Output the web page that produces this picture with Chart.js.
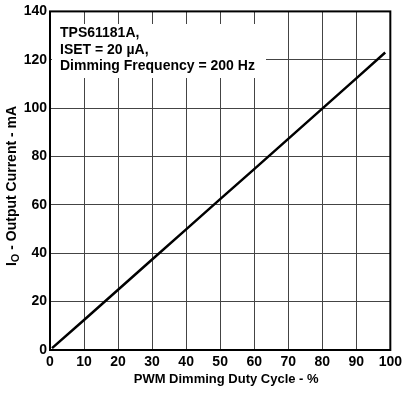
<!DOCTYPE html>
<html>
<head>
<meta charset="utf-8">
<script src="https://cdn.jsdelivr.net/npm/chart.js@4"></script>
<style>
  html, body { margin: 0; padding: 0; background: #fff; }
  #chart { display: block; }
</style>
</head>
<body>
<canvas id="chart" width="406" height="394"></canvas>
<script>
var dutyCycle = [0.6, 10, 20, 30, 40, 50, 60, 70, 80, 90, 98.5];
var outputCurrent = [0.8, 12.4, 24.9, 37.4, 49.9, 62.4, 74.8, 87.3, 99.8, 112.3, 123];
var noteLines = ['TPS61181A,', 'ISET = 20 \u00b5A,', 'Dimming Frequency = 200 Hz'];
var xTitle = 'PWM Dimming Duty Cycle - %';

var FONT = '"Liberation Sans", Arial, sans-serif';

var framePlugin = {
  id: 'frame',
  beforeDatasetsDraw: function (chart) {
    var ctx = chart.ctx;
    var a = chart.chartArea;
    ctx.save();
    // white box behind the note hides the grid
    ctx.fillStyle = '#fff';
    ctx.fillRect(a.left + 2, 24, 214, 54);
    ctx.fillStyle = '#000';
    ctx.font = 'bold 14px ' + FONT;
    ctx.textBaseline = 'alphabetic';
    ctx.textAlign = 'left';
    noteLines.forEach(function (line, i) {
      ctx.fillText(line, a.left + 10, 37 + i * 16.7);
    });
    ctx.restore();
  },
  afterDraw: function (chart) {
    var ctx = chart.ctx;
    var a = chart.chartArea;
    ctx.save();
    ctx.strokeStyle = '#000';
    ctx.lineWidth = 2;
    ctx.strokeRect(a.left, a.top, a.right - a.left, a.bottom - a.top);

    // x axis title, sits a little right of the plot centre
    ctx.fillStyle = '#000';
    ctx.font = 'bold 13px ' + FONT;
    ctx.textAlign = 'center';
    ctx.textBaseline = 'middle';
    ctx.fillText(xTitle, (a.left + a.right) / 2 + 6, 379);

    // y axis title with subscript O
    ctx.translate(12, 186);
    ctx.rotate(-Math.PI / 2);
    ctx.textAlign = 'left';
    var big = 'bold 14px ' + FONT;
    var small = 'bold 11px ' + FONT;
    var rest = ' - Output Current - mA';
    ctx.font = big;
    var wI = ctx.measureText('I').width;
    var wRest = ctx.measureText(rest).width;
    ctx.font = small;
    var wO = ctx.measureText('O').width;
    var x0 = -(wI + wO + wRest) / 2;
    ctx.font = big;
    ctx.fillText('I', x0, 0);
    ctx.font = small;
    ctx.fillText('O', x0 + wI, 4);
    ctx.font = big;
    ctx.fillText(rest, x0 + wI + wO, 0);
    ctx.restore();
  }
};

new Chart(document.getElementById('chart'), {
  type: 'line',
  data: {
    datasets: [{
      data: dutyCycle.map(function (d, i) { return { x: d, y: outputCurrent[i] }; }),
      borderColor: '#000',
      borderWidth: 2.5,
      pointRadius: 0,
      fill: false,
      tension: 0
    }]
  },
  options: {
    responsive: false,
    animation: false,
    layout: { padding: { top: 10, right: 14, left: 0, bottom: 0 } },
    plugins: {
      legend: { display: false },
      tooltip: { enabled: false }
    },
    scales: {
      x: {
        type: 'linear',
        min: 0,
        max: 100,
        afterFit: function (scale) { scale.height = 44; },
        grid: { color: '#444', lineWidth: 1, drawTicks: false },
        border: { display: false },
        ticks: {
          stepSize: 10,
          padding: 4,
          color: '#000',
          font: { family: FONT, size: 14, weight: 'bold' }
        },
        title: { display: false }
      },
      y: {
        min: 0,
        max: 140,
        afterFit: function (scale) { scale.width = 50; },
        grid: { color: '#444', lineWidth: 1, drawTicks: false },
        border: { display: false },
        ticks: {
          stepSize: 20,
          padding: 3,
          color: '#000',
          font: { family: FONT, size: 14, weight: 'bold' }
        }
      }
    }
  },
  plugins: [framePlugin]
});
</script>
</body>
</html>
